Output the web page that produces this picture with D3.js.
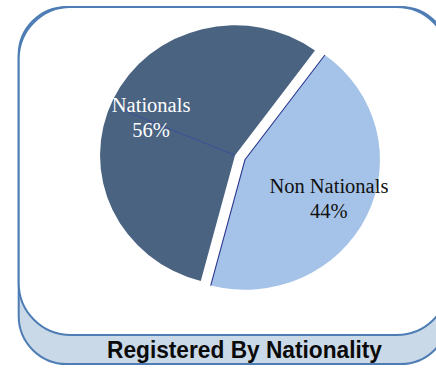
<!DOCTYPE html>
<html>
<head>
<meta charset="utf-8">
<script src="https://cdn.jsdelivr.net/npm/d3@7/dist/d3.min.js"></script>
<style>
  html, body { margin: 0; padding: 0; background: #ffffff; }
  svg { display: block; }
</style>
</head>
<body>
<svg id="chart" width="436" height="377"></svg>
<script>
// Registered persons split by nationality
const categories = ["Nationals", "Non Nationals"];
const shares = [56, 44];
const percentLabels = ["56%", "44%"];
const sliceColors = ["#4a6381", "#a5c3e8"];
const labelColors = ["#ffffff", "#111111"];
const chartTitle = "Registered By Nationality";

const svg = d3.select("#chart");
const W = 436, H = 377;

// ---- card frame: a raised panel with a shaded base underneath ----
const frameStroke = "#4d7db4";
function roundedRect(x, y, w, h, r) {
  return `M${x + r},${y} H${x + w - r} A${r},${r} 0 0 1 ${x + w},${y + r}
          V${y + h - r} A${r},${r} 0 0 1 ${x + w - r},${y + h}
          H${x + r} A${r},${r} 0 0 1 ${x},${y + h - r}
          V${y + r} A${r},${r} 0 0 1 ${x + r},${y} Z`;
}
// base (depth) layer
svg.append("path")
  .attr("d", roundedRect(18.7, 7, 430, 357, 48))
  .attr("fill", "#cad9e8")
  .attr("stroke", frameStroke)
  .attr("stroke-width", 2);
// top face
svg.append("path")
  .attr("d", roundedRect(18.7, 7, 430, 328, 52))
  .attr("fill", "#ffffff")
  .attr("stroke", frameStroke)
  .attr("stroke-width", 2);

// ---- pie ----
const cx = 240, cy = 157.5;
const R = 135;            // horizontal radius
const sy = 130 / 135;     // slight vertical squash
const explode = 5.5;
const startDeg = 194.7;

const pie = d3.pie().sort(null)
  .startAngle(startDeg * Math.PI / 180)
  .endAngle(startDeg * Math.PI / 180 + 2 * Math.PI);
const arcs = pie(shares);
const arc = d3.arc().innerRadius(0).outerRadius(R);

const g = svg.append("g").attr("transform", `translate(${cx},${cy}) scale(1,${sy})`);

function offsetOf(d) {
  const mid = (d.startAngle + d.endAngle) / 2;
  return [explode * Math.sin(mid), -explode * Math.cos(mid)];
}

const slices = g.selectAll("g.slice").data(arcs).join("g")
  .attr("class", "slice")
  .attr("transform", d => { const o = offsetOf(d); return `translate(${o[0]},${o[1]})`; });

slices.append("path")
  .attr("d", arc)
  .attr("fill", (d, i) => sliceColors[i]);

// dark edge along the straight sides of the smaller slice
slices.filter((d, i) => i === 1).append("path")
  .attr("d", d => {
    const p = a => [R * Math.sin(a), -R * Math.cos(a)];
    const a0 = p(d.startAngle), a1 = p(d.endAngle);
    return `M${a0[0]},${a0[1]} L0,0 L${a1[0]},${a1[1]}`;
  })
  .attr("fill", "none")
  .attr("stroke", "#2c3890")
  .attr("stroke-width", 1.1);

// leader line from the Nationals label to the slice point
slices.filter((d, i) => i === 0).append("line")
  .attr("x1", 0).attr("y1", 0)
  .attr("x2", d => { const m = (d.startAngle + d.endAngle) / 2 - 0.05; return 120 * Math.sin(m); })
  .attr("y2", d => { const m = (d.startAngle + d.endAngle) / 2 - 0.05; return -120 * Math.cos(m); })
  .attr("stroke", "#3442a8")
  .attr("stroke-width", 0.7)
  .attr("opacity", 0.85);

// ---- data labels ----
const labelR = 93;
const labels = svg.append("g");
arcs.forEach((d, i) => {
  const mid = (d.startAngle + d.endAngle) / 2;
  const o = offsetOf(d);
  const x = cx + o[0] + labelR * Math.sin(mid);
  const y = cy + (o[1] - labelR * Math.cos(mid)) * sy;
  const t = labels.append("text")
    .attr("text-anchor", "middle")
    .attr("font-family", "'Liberation Serif', 'Times New Roman', serif")
    .attr("font-size", 20.5)
    .attr("fill", labelColors[i]);
  t.append("tspan").attr("x", x).attr("y", y - 5).text(categories[i]);
  t.append("tspan").attr("x", x).attr("y", y + 20).text(percentLabels[i]);
});

// ---- title on the base strip ----
svg.append("text")
  .attr("x", 244.5)
  .attr("y", 358)
  .attr("text-anchor", "middle")
  .attr("font-family", "'Liberation Sans Narrow', 'Arial Narrow', 'Liberation Sans', Arial, sans-serif")
  .attr("font-weight", "bold")
  .attr("font-size", 24)
  .attr("textLength", 275)
  .attr("lengthAdjust", "spacingAndGlyphs")
  .attr("fill", "#0a0a0a")
  .text(chartTitle);
</script>
</body>
</html>
